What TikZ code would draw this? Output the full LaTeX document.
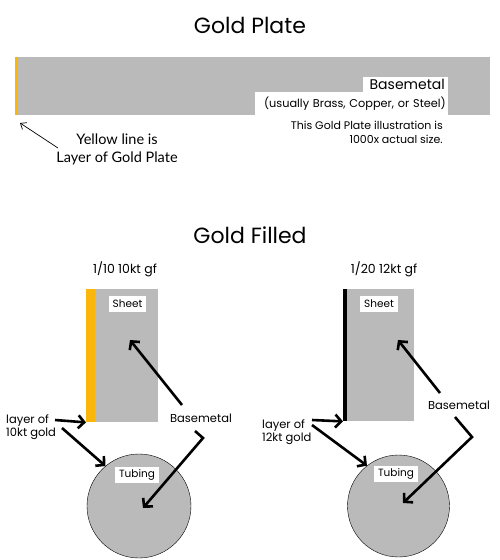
\documentclass[tikz,border=0pt]{standalone}
\usepackage{fontspec}
\setmainfont{Poppins}
\newfontfamily\notefont{Lato}
\usetikzlibrary{arrows.meta}
\definecolor{basegray}{RGB}{186,186,186}
\definecolor{goldlayer}{RGB}{250,182,10}
\begin{document}
\begin{tikzpicture}[x=1pt,y=-1pt]
  \tikzstyle{every node}=[inner sep=0pt]
  \tikzstyle{metal}=[fill=basegray,anchor=north west]
  \tikzstyle{tag}=[fill=white,font=\fontsize{10.5}{12}\selectfont,inner xsep=4pt,minimum height=16pt]
  \tikzstyle{label}=[font=\fontsize{11.5}{13}\selectfont]
  \tikzstyle{pointer}=[line width=2.6pt,-{Straight Barb[length=6pt,width=13pt]}]
  \useasboundingbox (0,0) rectangle (500,560);
  % gold plate
  \node (plate title) at (250,25) {\fontsize{22}{24}\selectfont Gold Plate};
  \node (plate) [metal,minimum width=474pt,minimum height=58pt] at (16,57) {};
  \node (plate layer) [fill=goldlayer,anchor=north west,minimum width=3pt,minimum height=58pt] at (15,57) {};
  \node (usually) [fill=white,anchor=north east,minimum width=193pt,minimum height=23pt,
    align=right,text width=189pt,font=\fontsize{11.3}{13}\selectfont] at (448,92) {(usually Brass, Copper, or Steel)};
  \node (plate base) [fill=white,anchor=south east,minimum width=85pt,minimum height=15.5pt,
    align=right,text width=79pt,font=\fontsize{14}{15}\selectfont] at (448,92.5) {Basemetal};
  \node (scale note) [anchor=north east,align=right,font=\fontsize{11}{13.5}\selectfont] at (443,121)
    {This Gold Plate illustration is\\1000x actual size.};
  \node (yellow note) [anchor=north,align=center,font=\notefont\fontsize{14.5}{18}\selectfont] at (117,134)
    {Yellow line is\\Layer of Gold Plate};
  \coordinate (plate tip) at (20,123);
  \draw [line width=0.7pt,-{Straight Barb[length=5pt,width=8pt]}] (58,148) -- (plate tip);

  % gold filled
  \node (filled title) at (250,235) {\fontsize{22}{24}\selectfont Gold Filled};

  % 1/10 10kt
  \node (grade a) [label,font=\fontsize{12.5}{14}\selectfont] at (125,269) {1/10 10kt gf};
  \node (sheet a) [metal,minimum width=63pt,minimum height=133pt] at (95,289) {};
  \node (layer a) [fill=goldlayer,anchor=north west,minimum width=9pt,minimum height=133pt] at (86,289) {};
  \node (sheet tag a) [tag] at (127.5,304) {Sheet};
  \node (tube a) [draw,fill=basegray,circle,minimum size=104pt] at (139,506) {};
  \node (tube tag a) [tag] at (137,475) {Tubing};
  \node (base a) [label] at (201,418) {Basemetal};
  \node (gold a) [label,anchor=west,align=left] at (6,427) {layer of\\10kt gold};
  \coordinate (sheet pt a) at (130,340);
  \coordinate (tube pt a) at (143,508);
  \coordinate (bend a) at (203,438);
  \draw [pointer] (182,405) -- (sheet pt a);
  \draw [pointer] (195,431) -- (bend a) -- (tube pt a);
  \draw [pointer] (55,420) -- (layer a.south west);
  \draw [pointer] (62,428) -- (tube a.130);

  % 1/20 12kt
  \node (grade b) [label,font=\fontsize{12.5}{14}\selectfont] at (384,269) {1/20 12kt gf};
  \node (sheet b) [metal,minimum width=67pt,minimum height=132pt] at (347,289) {};
  \node (layer b) [fill=black,anchor=north west,minimum width=4pt,minimum height=132pt] at (343,289) {};
  \node (sheet tag b) [tag] at (379,304) {Sheet};
  \node (tube b) [draw,fill=basegray,circle,minimum size=102pt] at (398.5,506) {};
  \node (tube tag b) [tag] at (396,474) {Tubing};
  \node (base b) [label] at (459,405) {Basemetal};
  \node (gold b) [label,anchor=west,align=left] at (262,432) {layer of\\12kt gold};
  \coordinate (sheet pt b) at (398,340);
  \coordinate (tube pt b) at (403,503);
  \coordinate (bend b) at (472,437);
  \draw [pointer] (440,393) -- (sheet pt b);
  \draw [pointer] (455,417) -- (bend b) -- (tube pt b);
  \draw [pointer] (312,420) -- (layer b.south west);
  \draw [pointer] (312,425) -- (tube b.128);
\end{tikzpicture}
\end{document}
